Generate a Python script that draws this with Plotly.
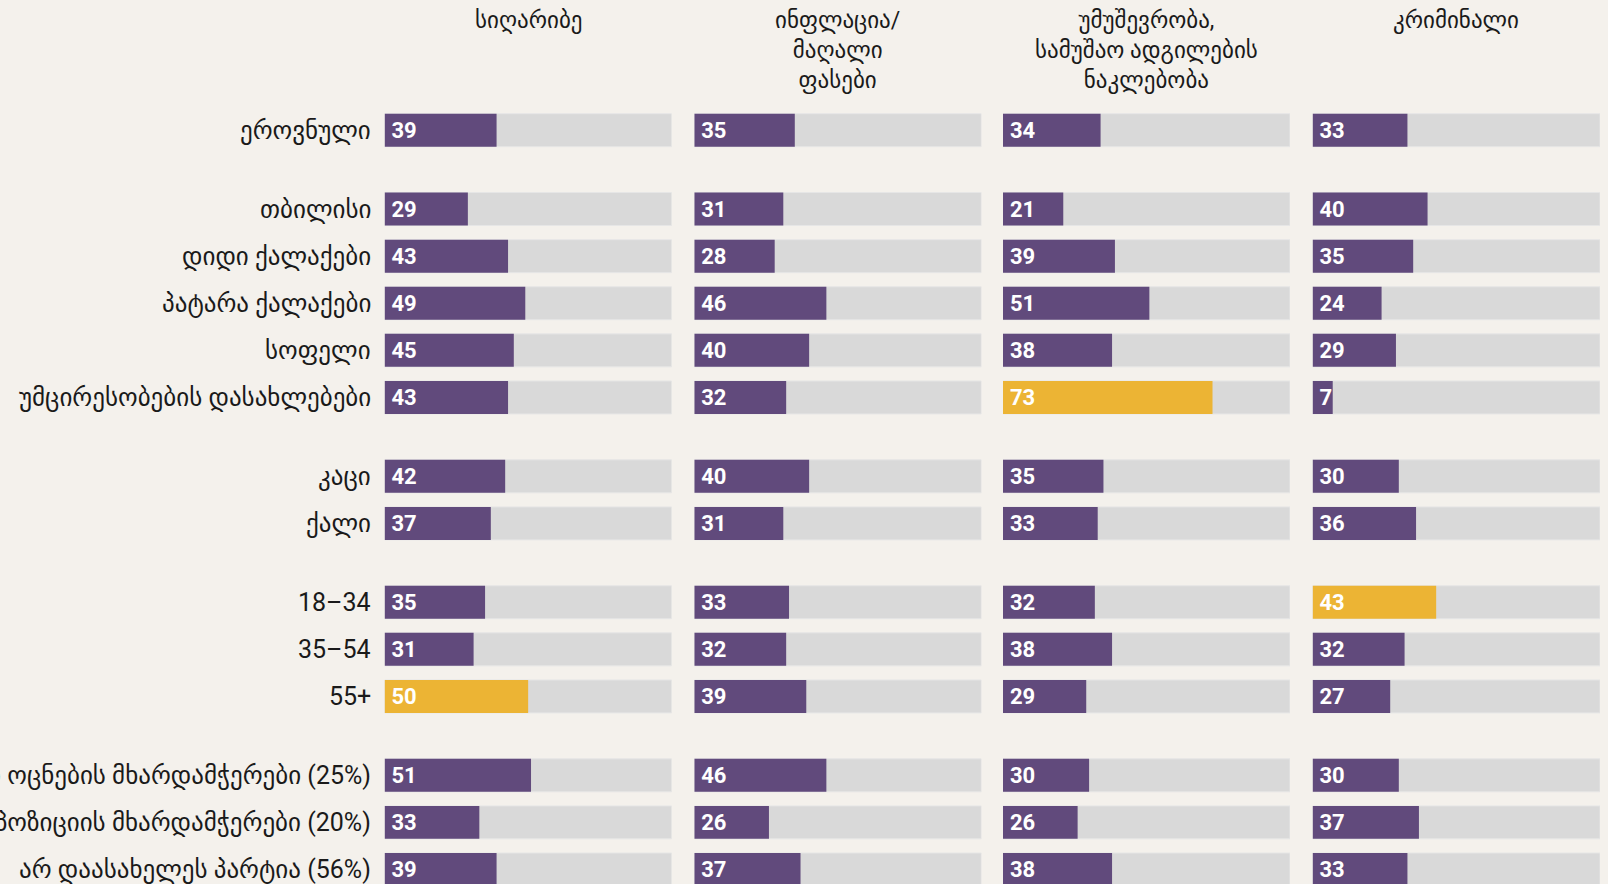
import plotly.graph_objects as go

# Kategorien (Zeilen) in Gruppen
groups = [
    ["ეროვნული"],
    ["თბილისი", "დიდი ქალაქები", "პატარა ქალაქები", "სოფელი", "უმცირესობების დასახლებები"],
    ["კაცი", "ქალი"],
    ["18–34", "35–54", "55+"],
    ["ქართული ოცნების მხარდამჭერები (25%)", "ოპოზიციის მხარდამჭერები (20%)", "არ დაასახელეს პარტია (56%)"],
]

columns = [
    "სიღარიბე",
    "ინფლაცია/<br>მაღალი<br>ფასები",
    "უმუშევრობა,<br>სამუშაო ადგილების<br>ნაკლებობა",
    "კრიმინალი",
]

poverty = [39, 29, 43, 49, 45, 43, 42, 37, 35, 31, 50, 51, 33, 39]
inflation = [35, 31, 28, 46, 40, 32, 40, 31, 33, 32, 39, 46, 26, 37]
unemployment = [34, 21, 39, 51, 38, 73, 35, 33, 32, 38, 29, 30, 26, 38]
crime = [33, 40, 35, 24, 29, 7, 30, 36, 43, 32, 27, 30, 37, 33]

# hervorgehobene Zellen (gelb)
highlight_poverty = ["55+"]
highlight_inflation = []
highlight_unemployment = ["უმცირესობების დასახლებები"]
highlight_crime = ["18–34"]

series = [poverty, inflation, unemployment, crime]
highlights = [highlight_poverty, highlight_inflation, highlight_unemployment, highlight_crime]

PURPLE = "#614a7c"
GOLD = "#ecb434"
GREY = "#d9d9d9"
BG = "#f4f1ec"
TEXT_FONT = "Roboto, Liberation Sans, sans-serif"
LABEL_FONT = "Roboto, DejaVu Sans, sans-serif"

W, H = 1608, 884

# Zeilenpositionen mit Abstand zwischen Gruppen
GROUP_GAP = 0.674
labels, positions = [], []
for gi, g in enumerate(groups):
    for lab in g:
        positions.append(len(labels) + GROUP_GAP * gi)
        labels.append(lab)

# Spalten-Domains in Pixeln
col_px = [(384.6, 671.7), (694.3, 981.4), (1003.0, 1290.0), (1312.6, 1600.0)]

fig = go.Figure()

for ci, (vals, hl) in enumerate(zip(series, highlights)):
    xa = "x" if ci == 0 else f"x{ci + 1}"
    colors = [GOLD if lab in hl else PURPLE for lab in labels]

    # Hintergrundbalken (100 %)
    fig.add_trace(go.Bar(
        x=[100] * len(labels), y=positions, orientation="h", width=0.7,
        marker=dict(color=GREY, line=dict(color="#e6e6e6", width=1)),
        xaxis=xa, yaxis="y", hoverinfo="skip", showlegend=False
    ))
    # Wertebalken
    fig.add_trace(go.Bar(
        x=vals, y=positions, orientation="h", width=0.7,
        marker=dict(color=colors, line=dict(width=0)),
        xaxis=xa, yaxis="y", showlegend=False,
        hovertemplate="%{x}<extra></extra>"
    ))
    # Wertebeschriftung
    fig.add_trace(go.Scatter(
        x=[2.4] * len(labels), y=[p + 0.05 for p in positions], mode="text",
        text=[str(v) for v in vals], textposition="middle right",
        textfont=dict(family=TEXT_FONT, size=22, color="white", weight="bold"),
        xaxis=xa, yaxis="y", hoverinfo="skip", showlegend=False
    ))

    x0, x1 = col_px[ci]
    axis_key = "xaxis" if ci == 0 else f"xaxis{ci + 1}"
    fig.update_layout(**{axis_key: dict(
        domain=[x0 / W, x1 / W], range=[0, 100], anchor="y",
        visible=False, fixedrange=True
    )})

    fig.add_annotation(
        text=columns[ci], xref="paper", yref="paper",
        x=(x0 + x1) / 2 / W, y=1 - 5 / H, xanchor="center", yanchor="top",
        showarrow=False, align="center",
        font=dict(family=LABEL_FONT, size=23, color="#1a1a1a")
    )

# Zeilenbeschriftungen
for lab, pos in zip(labels, positions):
    fig.add_annotation(
        text=lab, xref="paper", yref="y", x=373 / W, y=pos,
        xanchor="right", yanchor="middle", showarrow=False,
        font=dict(family=LABEL_FONT, size=25, color="#1a1a1a")
    )

unit = 47.1
top_px = 130.2
fig.update_layout(
    width=W, height=H,
    margin=dict(l=0, r=0, t=0, b=0),
    paper_bgcolor=BG, plot_bgcolor=BG,
    barmode="overlay",
    yaxis=dict(range=[(H - top_px) / unit, -top_px / unit], visible=False, fixedrange=True),
    showlegend=False,
)

fig.write_html("out.html", config={"displayModeBar": False},
               post_script="document.body.style.margin='0';")
